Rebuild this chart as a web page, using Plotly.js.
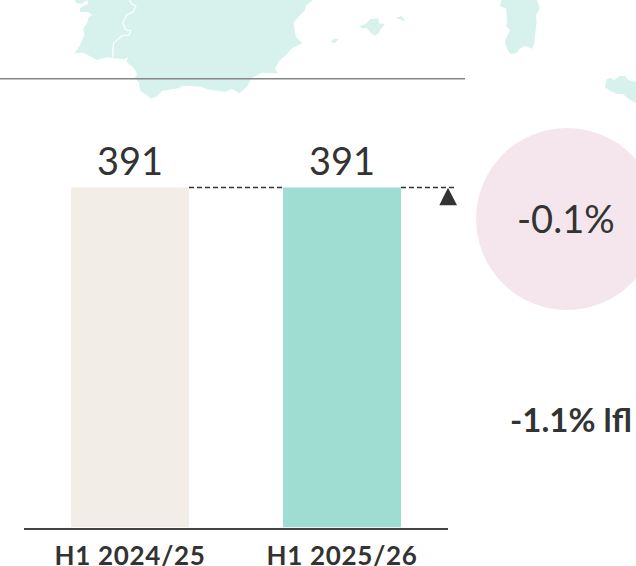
<!DOCTYPE html>
<html>
<head>
<meta charset="utf-8">
<script src="https://cdn.plot.ly/plotly-3.0.1.min.js"></script>
<style>html,body{margin:0;padding:0;background:#fff;overflow:hidden}#c{width:636px;height:566px}
.xtick text{letter-spacing:0.7px}</style>
</head>
<body>
<div id="c"></div>
<script>
var categories = ["H1 2024/25", "H1 2025/26"];
var salesValues = [391, 391];
var barColors = ["#f2ede6", "#9fdcd1"];
var changeLabel = "-0.1%";
var lflLabel = "-1.1% lfl";

// Decorative background map outlines, in page pixels
var mapIberia = [[75,0],[75.9,2.7],[81.1,4],[87.2,0],[88.4,4],[83.2,6],[79.9,8.3],[79.9,12.3],[88.4,12],[92.1,15],[88.4,17.3],[87.2,23.3],[83.2,28.3],[84.4,35],[81.1,43.3],[77.1,50],[73.8,53.3],[83.2,52.7],[97.4,60],[106.3,57.3],[123.7,59.3],[127.8,57.3],[126.6,61.7],[133.9,68.3],[137.1,74],[135.1,77.3],[139.1,83.3],[140,90.7],[145.2,94],[150.9,98.7],[156.2,96.7],[162.3,90.7],[178.5,88.3],[182.6,85.7],[200.8,86.7],[206.9,89.3],[225.2,91.7],[232,88.7],[239.4,93.3],[246.7,87.3],[251.5,78.3],[261.7,72.7],[277.9,73.3],[275,68.3],[279.9,60],[286,55],[292,48.3],[302.2,43.3],[296,36.7],[293.3,22.7],[305,10],[306.3,5],[313.2,0]];
var mapBorder = [[129.3,0],[131.7,4],[136,6],[133.3,11.7],[126.7,15],[122.7,22.7],[126,30],[130.7,30.7],[129,35],[121.7,36],[113.3,43.3],[112.7,57.3]];
var mapMallorca = [[360,26],[366,24],[370,19.3],[378.3,18.3],[379,23.3],[385,24],[380.7,29.3],[378.3,33.3],[375,35.7],[370,32.3],[367.3,28.3],[361.7,28.3]];
var mapMenorca = [[396,17.7],[401.7,16],[405.7,21.7],[401.7,20]];
var mapIbiza = [[330.7,41.7],[335,38.3],[339,39.3],[334,43.3]];
var mapSardinia = [[501.7,0],[500,6],[506,8.3],[507.3,22.7],[506,26],[510,30],[506,38.3],[505,43.3],[507.3,49.3],[510.7,54],[516,53.3],[520,48.3],[525,46],[532.7,48.7],[534.3,41.7],[536.7,21.7],[536,15],[540,8.3],[536.7,0]];
var mapSicily = [[606.7,79.3],[610.7,77.7],[614,80],[620,76],[625,76],[628.3,80],[636,81.7],[636,102.7],[630,100],[623.3,94.3],[616.7,94],[610,90.7],[605,87.3]];
var markerTriangle = [[448,187.7],[457,205.3],[439.3,205.3]];

var W = 636, H = 566;
function px(x){ return x / W; }
function py(y){ return 1 - y / H; }
function pathOf(pts, closed){
  return pts.map(function(p,i){ return (i ? "L" : "M") + px(p[0]).toFixed(5) + "," + py(p[1]).toFixed(5); }).join(" ") + (closed ? " Z" : "");
}
function fillShape(pts, color){
  return {type:"path", xref:"paper", yref:"paper", path:pathOf(pts,true), fillcolor:color, line:{width:0}, layer:"below"};
}
var mapColor = "#d7f1ec";
var font = "Lato, 'Open Sans', sans-serif";
var ink = "#333333";
var dash = {color:ink, width:1.5, dash:"5px,3px"};

var shapes = [mapIberia, mapMallorca, mapMenorca, mapIbiza, mapSardinia, mapSicily].map(function(m){ return fillShape(m, mapColor); });
shapes.push({type:"path", xref:"paper", yref:"paper", path:pathOf(mapBorder,false), line:{color:"#ffffff", width:1.2}, layer:"below"});
shapes.push({type:"line", xref:"paper", yref:"paper", x0:0, x1:px(465), y0:py(78.7), y1:py(78.7), line:{color:"#858585", width:1.4}});
shapes.push({type:"circle", xref:"paper", yref:"paper", x0:px(476), x1:px(658), y0:py(128), y1:py(310), fillcolor:"#f5e6ed", line:{width:0}, layer:"below"});
shapes.push({type:"line", xref:"paper", yref:"y", x0:px(189), x1:px(283), y0:salesValues[0], y1:salesValues[0], line:dash});
shapes.push({type:"line", xref:"paper", yref:"y", x0:px(401), x1:px(457), y0:salesValues[1], y1:salesValues[1], line:dash});
shapes.push(fillShape(markerTriangle, ink));
shapes[shapes.length-1].layer = "above";

var trace = {
  type:"bar",
  x:categories,
  y:salesValues,
  width:0.5566,
  marker:{color:barColors, line:{width:0}},
  hoverinfo:"skip"
};

var valueLabels = categories.map(function(c,i){
  return {xref:"x", yref:"y", x:c, y:salesValues[i], text:String(salesValues[i]), showarrow:false,
    xanchor:"center", yanchor:"bottom", yshift:3, font:{family:font, size:38, color:ink}};
});

var layout = {
  width:W, height:H,
  margin:{l:0,r:0,t:0,b:0},
  paper_bgcolor:"#ffffff",
  plot_bgcolor:"rgba(0,0,0,0)",
  showlegend:false,
  xaxis:{
    domain:[px(24), px(448)],
    type:"category",
    range:[-0.5,1.5],
    showline:true, linecolor:"#444444", linewidth:2,
    showgrid:false, zeroline:false, ticks:"",
    ticklabelstandoff:4,
    tickfont:{family:font, size:26, color:ink, weight:700},
    automargin:false
  },
  yaxis:{
    domain:[py(527.5), py(107.5)],
    range:[0, 483],
    visible:false,
    showgrid:false, zeroline:false
  },
  shapes:shapes,
  annotations:valueLabels.concat([
    {xref:"paper", yref:"paper", x:px(566), y:py(218), text:changeLabel, showarrow:false, xanchor:"center", yanchor:"middle",
     font:{family:font, size:38, color:ink}},
    {xref:"paper", yref:"paper", x:px(571), y:py(419), text:lflLabel, showarrow:false, xanchor:"center", yanchor:"middle",
     font:{family:font, size:33, color:ink, weight:700}}
  ])
};
Plotly.newPlot("c", [trace], layout, {displayModeBar:false, staticPlot:true});
</script>
</body>
</html>
